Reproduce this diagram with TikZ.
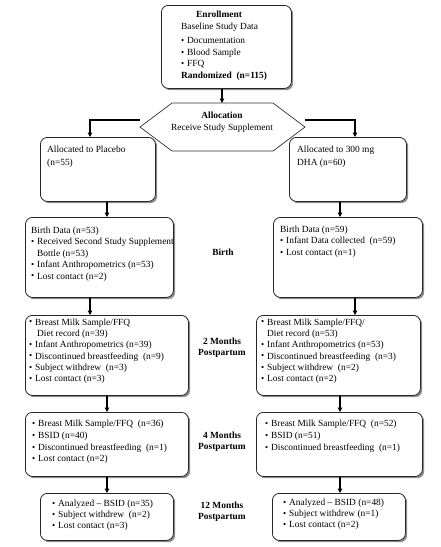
\documentclass[tikz,border=0pt]{standalone}
\usepackage{fontspec}
\setmainfont{Liberation Serif}
\usetikzlibrary{arrows.meta,shadows}
\newcommand{\bl}{\makebox[6pt][l]{\raisebox{0.2pt}{\scalebox{0.95}{•}}}}
\newcommand{\bi}{\hspace*{6pt}}
\begin{document}
\begin{tikzpicture}[x=1pt,y=-1pt,
  box/.style={draw=black!85, line width=0.8pt, rounded corners=7pt, fill=white,
    drop shadow={shadow xshift=1.8pt, shadow yshift=-1.8pt, fill=black!45, opacity=1},
    inner sep=0, anchor=north west},
  txt/.style={font=\fontsize{9.4}{11.4}\selectfont, align=left, anchor=north west, inner sep=0},
  lbl/.style={font=\fontsize{9.4}{11}\selectfont\bfseries, align=center, anchor=north, inner sep=0},
  arr/.style={line width=1.1pt, -{Triangle[length=4.5pt,width=4.5pt]}},
  ln/.style={line width=1.1pt},
  hexs/.style={draw=black!80, line width=0.7pt}]
\useasboundingbox (0,0) rectangle (440,547);

% boxes
\node[box, minimum width=130pt, minimum height=83pt] (enroll) at (161,5) {};
\node[box, minimum width=115pt, minimum height=64pt] (placebo) at (40,137) {};
\node[box, minimum width=117pt, minimum height=64pt] (dha) at (289,137) {};
\node[box, minimum width=148pt, minimum height=80pt] (birthL) at (25,217) {};
\node[box, minimum width=149pt, minimum height=80pt] (birthR) at (273,217) {};
\node[box, minimum width=163pt, minimum height=80pt] (twoL) at (25,315) {};
\node[box, minimum width=164pt, minimum height=80pt] (twoR) at (256,315) {};
\node[box, minimum width=163pt, minimum height=64pt] (fourL) at (25,412) {};
\node[box, minimum width=166pt, minimum height=64pt] (fourR) at (256,412) {};
\node[box, minimum width=133pt, minimum height=47pt] (twelveL) at (40,493) {};
\node[box, minimum width=133pt, minimum height=47pt] (twelveR) at (272,493) {};

% hexagon
\draw[hexs] (140,127) -- (172,103) -- (273,103) -- (305,127) -- (273,151) -- (172,151) -- cycle;
\coordinate (hN) at (222,103);
\coordinate (hL) at (140,120);
\coordinate (hR) at (305,120);
\node[lbl, font=\fontsize{9.4}{12}\selectfont] (alloc) at (222,110.2) {\strut\textbf{Allocation}\\\mdseries Receive Study Supplement};

% texts
\node[lbl] (enrollT) at (219,9.2) {\strut Enrollment};
\node[txt] (enrollB) at (181,20.9) {\strut Baseline Study Data\\[3.5pt]\bl Documentation\\\bl Blood Sample\\\bl FFQ\\\textbf{Randomized\ \ (n=115)}};
\node[txt, font=\fontsize{9.4}{13}\selectfont] (placeboT) at (47,142.9) {\strut Allocated to Placebo\\(n=55)};
\node[txt, font=\fontsize{9.4}{13}\selectfont] (dhaT) at (297,143.2) {\strut Allocated to 300 mg\\DHA (n=60)};
\node[txt, font=\fontsize{9.4}{11.5}\selectfont] (birthLT) at (31,224.9) {\strut Birth Data (n=53)\\\bl Received Second Study Supplement\\\bi Bottle (n=53)\\\bl Infant Anthropometrics (n=53)\\\bl Lost contact (n=2)};
\node[txt, font=\fontsize{9.4}{11.5}\selectfont] (birthRT) at (280,224.2) {\strut Birth Data (n=59)\\\bl Infant Data collected\ \ (n=59)\\\bl Lost contact (n=1)};
\node[txt, font=\fontsize{9.4}{11.3}\selectfont] (twoLT) at (29,317) {\strut\bl Breast Milk Sample/FFQ\\\hspace*{8pt}Diet record (n=39)\\\bl Infant Anthropometrics (n=39)\\\bl Discontinued breastfeeding\ \ (n=9)\\\bl Subject withdrew\ \ (n=3)\\\bl Lost contact (n=3)};
\node[txt, font=\fontsize{9.4}{11.3}\selectfont] (twoRT) at (261,317) {\strut\bl Breast Milk Sample/FFQ/\\\bi Diet record (n=53)\\\bl Infant Anthropometrics (n=53)\\\bl Discontinued breastfeeding\ \ (n=3)\\\bl Subject withdrew\ \ (n=2)\\\bl Lost contact (n=2)};
\node[txt, font=\fontsize{9.4}{11.7}\selectfont] (fourLT) at (32,418.5) {\strut\bl Breast Milk Sample/FFQ\ \ (n=36)\\\bl BSID (n=40)\\\bl Discontinued breastfeeding\ \ (n=1)\\\bl Lost contact (n=2)};
\node[txt, font=\fontsize{9.4}{11.7}\selectfont] (fourRT) at (265,418.5) {\strut\bl Breast Milk Sample/FFQ\ \ (n=52)\\\bl BSID (n=51)\\\bl Discontinued breastfeeding\ \ (n=1)};
\node[txt, font=\fontsize{9.4}{11.2}\selectfont] (twelveLT) at (52,498.5) {\strut\bl Analyzed -- BSID (n=35)\\\bl Subject withdrew\ \ (n=2)\\\bl Lost contact (n=3)};
\node[txt, font=\fontsize{9.4}{11.2}\selectfont] (twelveRT) at (283,497.5) {\strut\bl Analyzed -- BSID (n=48)\\\bl Subject withdrew (n=1)\\\bl Lost contact (n=2)};

% stage labels
\node[lbl] (birthLab) at (223,247.2) {\strut Birth};
\node[lbl] (twoLab) at (222,336.2) {\strut 2 Months\\Postpartum};
\node[lbl] (fourLab) at (222,430.2) {\strut 4 Months\\Postpartum};
\node[lbl] (twelveLab) at (222,500.2) {\strut 12 Months\\Postpartum};

% column x positions
\coordinate (xA) at (90,0);
\coordinate (xB) at (107,0);
\coordinate (xC) at (340,0);
\coordinate (xD) at (355,0);

% connectors
\draw[arr] (hN |- enroll.south) -- (hN);
\draw[arr] (hL) -| (placebo.north -| xA);
\draw[arr] (hR) -| (dha.north -| xD);
\draw[arr] (placebo.south -| xB) -- (birthL.north -| xB);
\draw[arr] (dha.south -| xC) -- (birthR.north -| xC);
\draw[arr] (birthL.south -| xA) -- (twoL.north -| xA);
\draw[arr] (birthR.south -| xD) -- (twoR.north -| xD);
\draw[arr] (twoL.south -| xB) -- (fourL.north -| xB);
\draw[arr] (twoR.south -| xC) -- (fourR.north -| xC);
\draw[arr] (fourL.south -| xB) -- (twelveL.north -| xB);
\draw[arr] (fourR.south -| xC) -- (twelveR.north -| xC);
\end{tikzpicture}
\end{document}
